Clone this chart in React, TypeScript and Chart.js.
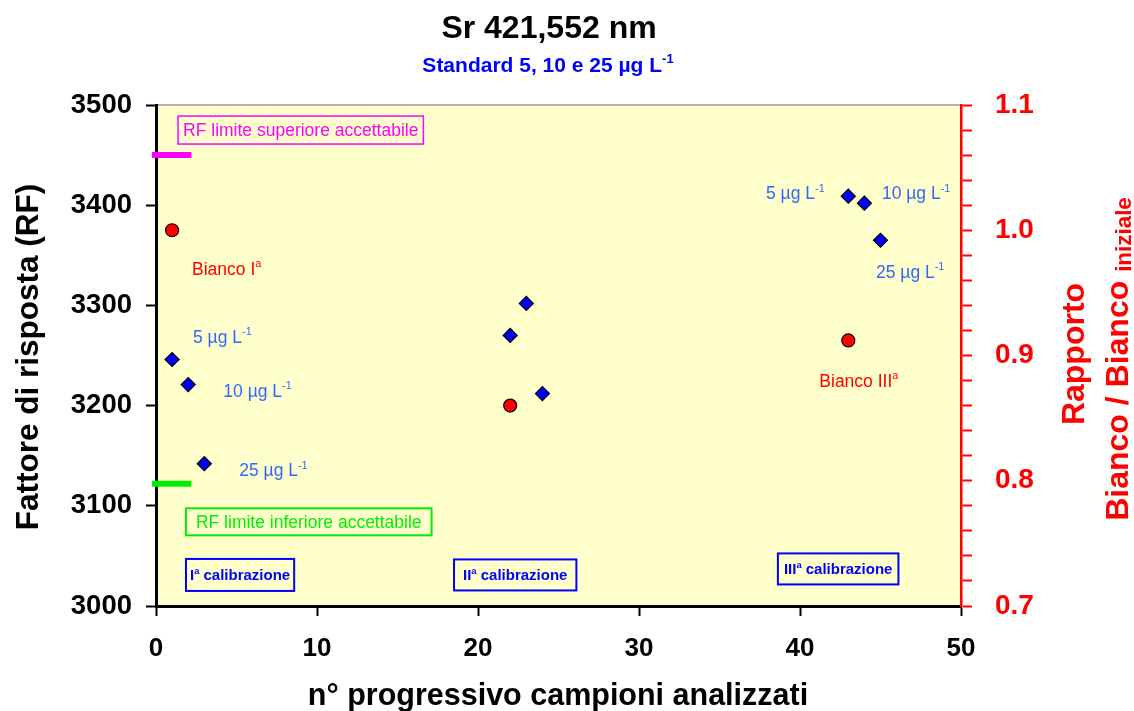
import React, { useEffect, useRef } from "react";
import { Chart, registerables } from "chart.js";

Chart.register(...registerables);

// sample number (x) and response factor RF of the 5, 10, 25 µg/L standards
const stdSample = [1, 2, 3, 22, 23, 24, 43, 44, 45];
const stdRF = [3246, 3221, 3142, 3270, 3302, 3212, 3409, 3402, 3365];

// blanks, as ratio Bianco / Bianco iniziale (right axis)
const blankSample = [1, 22, 43];
const blankRatio = [1.0, 0.86, 0.912];

// acceptance limits of RF, drawn as short segments on the left
const rfUpper = 3450;
const rfLower = 3122;
const limitSpan = [-0.25, 2.2];

const xTicks = [0, 10, 20, 30, 40, 50];
const rfTicks = [3000, 3100, 3200, 3300, 3400, 3500];
const ratioTicks = [0.7, 0.8, 0.9, 1.0, 1.1];

const FONT = '"Liberation Sans", Arial, Helvetica, sans-serif';
const RED = "#FF0000";
const BLUE = "#0000FF";
const LBLUE = "#3366FF";
const MAGENTA = "#FF00FF";
const GREEN = "#00EE00";

type Part = { t: string; sup?: boolean; sub?: boolean };

const ugL = (n: string): Part[] => [{ t: `${n} µg L` }, { t: "-1", sup: true }];
const ord = (n: string): Part[] => [{ t: n }, { t: "a", sup: true }];

type Note = {
  at: [number, number]; // left of text, middle of caps (data units)
  parts: Part[];
  color: string;
  size: number;
  bold?: boolean;
  box?: { padX: number; h: number; lw: number };
};

const notes: Note[] = [
  { at: [1.68, 3475], parts: [{ t: "RF limite superiore accettabile" }], color: MAGENTA, size: 17.5, box: { padX: 5, h: 28, lw: 1.5 } },
  { at: [2.48, 3084], parts: [{ t: "RF limite inferiore accettabile" }], color: GREEN, size: 17.5, box: { padX: 10, h: 27, lw: 2 } },
  { at: [2.24, 3337], parts: [{ t: "Bianco I" }, { t: "a", sup: true }], color: RED, size: 17.5 },
  { at: [41.2, 3225], parts: [{ t: "Bianco III" }, { t: "a", sup: true }], color: RED, size: 17.5 },
  { at: [2.3, 3269], parts: ugL("5"), color: LBLUE, size: 17.5 },
  { at: [4.18, 3215], parts: ugL("10"), color: LBLUE, size: 17.5 },
  { at: [5.17, 3136], parts: ugL("25"), color: LBLUE, size: 17.5 },
  { at: [37.89, 3412], parts: ugL("5"), color: LBLUE, size: 17.5 },
  { at: [45.09, 3412], parts: ugL("10"), color: LBLUE, size: 17.5 },
  { at: [44.72, 3334], parts: ugL("25"), color: LBLUE, size: 17.5 },
  { at: [2.11, 3031], parts: [...ord("I"), { t: " calibrazione" }], color: BLUE, size: 15, bold: true, box: { padX: 4, h: 32, lw: 2 } },
  { at: [19.07, 3031], parts: [...ord("II"), { t: " calibrazione" }], color: BLUE, size: 15, bold: true, box: { padX: 9, h: 31, lw: 2 } },
  { at: [39.0, 3037], parts: [...ord("III"), { t: " calibrazione" }], color: BLUE, size: 15, bold: true, box: { padX: 6, h: 31, lw: 2 } },
];

function fontFor(p: Part, size: number, bold: boolean) {
  const s = p.sup ? size * 0.62 : p.sub ? size * 0.7 : size;
  return `${bold ? "bold " : ""}${s}px ${FONT}`;
}

function measureRich(ctx: CanvasRenderingContext2D, parts: Part[], size: number, bold: boolean) {
  return parts.map((p) => {
    ctx.font = fontFor(p, size, bold);
    return ctx.measureText(p.t).width;
  });
}

function drawRich(
  ctx: CanvasRenderingContext2D,
  parts: Part[],
  x: number,
  baseline: number,
  size: number,
  bold: boolean,
  color: string,
  align: "left" | "center"
) {
  const widths = measureRich(ctx, parts, size, bold);
  const total = widths.reduce((a, b) => a + b, 0);
  let cx = align === "center" ? x - total / 2 : x;
  ctx.fillStyle = color;
  ctx.textAlign = "left";
  ctx.textBaseline = "alphabetic";
  parts.forEach((p, i) => {
    ctx.font = fontFor(p, size, bold);
    const dy = p.sup ? -size * 0.42 : p.sub ? size * 0.1 : 0;
    ctx.fillText(p.t, cx, baseline + dy);
    cx += widths[i];
  });
  return total;
}

const decor = {
  id: "decor",
  beforeDraw(chart: any) {
    const { ctx, chartArea: a } = chart;
    ctx.save();
    ctx.fillStyle = "#FFFFCC";
    ctx.fillRect(a.left, a.top, a.right - a.left, a.bottom - a.top);
    ctx.strokeStyle = "#9a9a9a";
    ctx.lineWidth = 1.5;
    ctx.beginPath();
    ctx.moveTo(a.left, a.top);
    ctx.lineTo(a.right, a.top);
    ctx.stroke();
    ctx.restore();
  },
  afterDraw(chart: any) {
    const { ctx } = chart;
    const sx = chart.scales.x;
    const sy = chart.scales.y;
    ctx.save();

    // titles
    drawRich(ctx, [{ t: "Sr 421,552 nm" }], 549, 38, 32, true, "#000", "center");
    drawRich(ctx, [{ t: "Standard 5, 10 e 25 µg L" }, { t: "-1", sup: true }], 548, 72, 21, true, BLUE, "center");

    // x axis title
    drawRich(ctx, [{ t: "n° progressivo campioni analizzati" }], 558, 705, 30.5, true, "#000", "center");

    // left axis title
    ctx.save();
    ctx.translate(38, 357);
    ctx.rotate(-Math.PI / 2);
    drawRich(ctx, [{ t: "Fattore di risposta (RF)" }], 0, 0, 31.5, true, "#000", "center");
    ctx.restore();

    // right axis title, two lines
    ctx.save();
    ctx.translate(1084, 354);
    ctx.rotate(-Math.PI / 2);
    drawRich(ctx, [{ t: "Rapporto" }], 0, 0, 32, true, RED, "center");
    ctx.restore();
    ctx.save();
    ctx.translate(1128, 359);
    ctx.rotate(-Math.PI / 2);
    drawRich(ctx, [{ t: "Bianco / Bianco " }, { t: "iniziale", sub: true }], 0, 0, 32, true, RED, "center");
    ctx.restore();

    // notes and boxes
    notes.forEach((n) => {
      const px = sx.getPixelForValue(n.at[0]);
      const py = sy.getPixelForValue(n.at[1]);
      const bold = !!n.bold;
      const w = measureRich(ctx, n.parts, n.size, bold).reduce((a, b) => a + b, 0);
      if (n.box) {
        ctx.strokeStyle = n.color;
        ctx.lineWidth = n.box.lw;
        ctx.strokeRect(px - n.box.padX, py - n.box.h / 2, w + 2 * n.box.padX, n.box.h);
      }
      drawRich(ctx, n.parts, px, py + n.size * 0.358, n.size, bold, n.color, "left");
    });

    ctx.restore();
  },
};

export default function App() {
  const canvasRef = useRef<HTMLCanvasElement | null>(null);
  const chartRef = useRef<Chart | null>(null);

  useEffect(() => {
    if (!canvasRef.current) return;
    if (chartRef.current) chartRef.current.destroy();

    const tickFont = (size: number) => ({ family: FONT, size, weight: "bold" as const });

    chartRef.current = new Chart(canvasRef.current, {
      type: "scatter",
      data: {
        datasets: [
          {
            label: "RF limite superiore",
            data: limitSpan.map((x) => ({ x, y: rfUpper })),
            showLine: true,
            borderColor: MAGENTA,
            borderWidth: 6,
            pointRadius: 0,
            clip: false as any,
            yAxisID: "y",
          },
          {
            label: "RF limite inferiore",
            data: limitSpan.map((x) => ({ x, y: rfLower })),
            showLine: true,
            borderColor: GREEN,
            borderWidth: 6,
            pointRadius: 0,
            clip: false as any,
            yAxisID: "y",
          },
          {
            label: "Standard",
            data: stdSample.map((x, i) => ({ x, y: stdRF[i] })),
            pointStyle: "rectRot",
            pointRadius: 7,
            backgroundColor: BLUE,
            borderColor: "#000",
            borderWidth: 1.2,
            yAxisID: "y",
          },
          {
            label: "Bianco",
            data: blankSample.map((x, i) => ({ x, y: blankRatio[i] })),
            pointStyle: "circle",
            pointRadius: 6.5,
            backgroundColor: RED,
            borderColor: "#000",
            borderWidth: 1.2,
            yAxisID: "y2",
          },
        ],
      },
      options: {
        animation: false,
        responsive: false,
        layout: { padding: { top: 105, left: 0, right: 0, bottom: 0 } },
        plugins: {
          legend: { display: false },
          tooltip: { enabled: false },
          title: { display: false },
        },
        scales: {
          x: {
            type: "linear",
            position: "bottom",
            min: xTicks[0],
            max: xTicks[xTicks.length - 1],
            afterBuildTicks: (s: any) => {
              s.ticks = xTicks.map((v) => ({ value: v }));
            },
            ticks: {
              font: tickFont(26),
              color: "#000",
              padding: 17,
              maxRotation: 0,
              autoSkip: false,
              callback: (v: any) => String(v),
            },
            grid: { drawOnChartArea: false, drawTicks: true, tickLength: 10, tickWidth: 2, tickColor: "#000" },
            border: { color: "#000", width: 3 },
            afterFit: (s: any) => {
              s.height = 105;
            },
          },
          y: {
            type: "linear",
            position: "left",
            min: rfTicks[0],
            max: rfTicks[rfTicks.length - 1],
            afterBuildTicks: (s: any) => {
              s.ticks = rfTicks.map((v) => ({ value: v }));
            },
            ticks: { font: tickFont(27.5), color: "#000", padding: 14, autoSkip: false, callback: (v: any) => String(v) },
            grid: { drawOnChartArea: false, drawTicks: true, tickLength: 10, tickWidth: 2, tickColor: "#000" },
            border: { color: "#000", width: 3 },
            afterFit: (s: any) => {
              s.width = 156;
            },
          },
          y2: {
            type: "linear",
            position: "right",
            min: ratioTicks[0],
            max: ratioTicks[ratioTicks.length - 1],
            ticks: {
              stepSize: 0.02,
              font: tickFont(28),
              color: RED,
              padding: 23,
              autoSkip: false,
              callback: (v: any) => {
                const r = Math.round(Number(v) * 100);
                return r % 10 === 0 ? (r / 100).toFixed(1) : "";
              },
            },
            grid: { drawOnChartArea: false, drawTicks: true, tickLength: 11, tickWidth: 2, tickColor: RED },
            border: { color: RED, width: 2.5 },
            afterFit: (s: any) => {
              s.width = 173;
            },
          },
        },
      } as any,
      plugins: [decor],
    });

    return () => {
      if (chartRef.current) {
        chartRef.current.destroy();
        chartRef.current = null;
      }
    };
  }, []);

  return (
    <div style={{ position: "absolute", left: 0, top: 0, width: 1134, height: 711, background: "#fff" }}>
      <canvas ref={canvasRef} width={1134} height={711} style={{ width: 1134, height: 711 }} />
    </div>
  );
}
